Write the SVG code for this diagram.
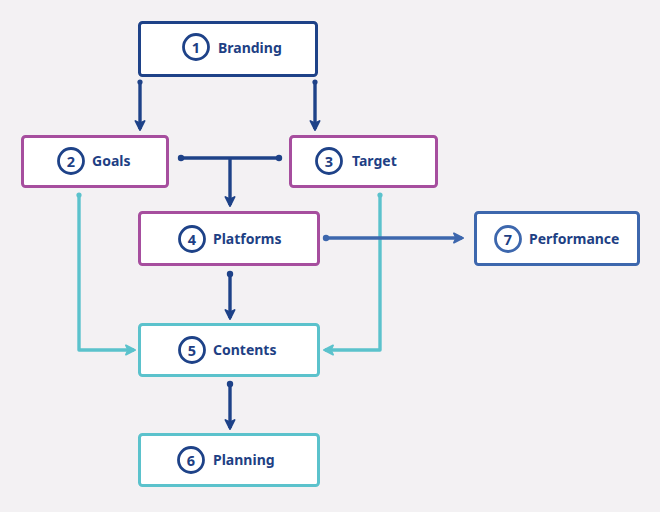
<svg xmlns="http://www.w3.org/2000/svg" width="660" height="512" viewBox="0 0 660 512">
<style>
.box{fill:#fff;stroke-width:3}
.b1{stroke:#1e4288}.b2{stroke:#a64e9e}.b3{stroke:#5bc2cc}.b4{stroke:#3d67ad}
.num{fill:none;stroke-width:2.8}
.t{font-family:"Noto Sans","Open Sans",sans-serif;font-weight:bold;font-size:14px;fill:#1e3f84}
.n{font-family:"Noto Sans","Open Sans",sans-serif;font-weight:bold;font-size:14.5px;fill:#1e3f84;text-anchor:middle}
.c{fill:none;stroke-width:3.4}
.dk{stroke:#1e4288}.tl{stroke:#5bc2cc}.bl{stroke:#3d67ad}
</style>
<defs>
<marker id="ad" viewBox="0 0 10 10" refX="8" refY="5" markerWidth="3.4" markerHeight="3.4" orient="auto" markerUnits="strokeWidth"><path d="M1,1 L9,5 L1,9 L3,5 Z" fill="#1e4288" stroke="#1e4288" stroke-width="1.5" stroke-linejoin="round"/></marker>
<marker id="at" viewBox="0 0 10 10" refX="8" refY="5" markerWidth="3.4" markerHeight="3.4" orient="auto" markerUnits="strokeWidth"><path d="M1,1 L9,5 L1,9 L3,5 Z" fill="#5bc2cc" stroke="#5bc2cc" stroke-width="1.5" stroke-linejoin="round"/></marker>
<marker id="ab" viewBox="0 0 10 10" refX="8" refY="5" markerWidth="3.4" markerHeight="3.4" orient="auto" markerUnits="strokeWidth"><path d="M1,1 L9,5 L1,9 L3,5 Z" fill="#3d67ad" stroke="#3d67ad" stroke-width="1.5" stroke-linejoin="round"/></marker>
</defs>
<rect width="660" height="512" fill="#f3f1f3"/>
<g id="connectors">
<path class="c dk" d="M140,82 V129" marker-end="url(#ad)"/>
<circle cx="140" cy="82" r="2.6" fill="#1e4288"/>
<path class="c dk" d="M315,82 V129" marker-end="url(#ad)"/>
<circle cx="315" cy="82" r="2.6" fill="#1e4288"/>
<path class="c dk" d="M181,158 H279"/>
<circle cx="181" cy="158" r="3.2" fill="#1e4288"/>
<circle cx="279" cy="158" r="3.2" fill="#1e4288"/>
<path class="c dk" d="M230,158 V205" marker-end="url(#ad)"/>
<path class="c tl" d="M79,195 V350 H134" marker-end="url(#at)" stroke-linejoin="round"/>
<circle cx="79" cy="195" r="2.6" fill="#5bc2cc"/>
<path class="c tl" d="M380,195 V350 H325" marker-end="url(#at)" stroke-linejoin="round"/>
<circle cx="380" cy="195" r="2.6" fill="#5bc2cc"/>
<path class="c bl" d="M326,238 H462" marker-end="url(#ab)"/>
<circle cx="326" cy="238" r="3.2" fill="#3d67ad"/>
<path class="c dk" d="M230,274 V318" marker-end="url(#ad)"/>
<circle cx="230" cy="274" r="3.2" fill="#1e4288"/>
<path class="c dk" d="M230,384 V428" marker-end="url(#ad)"/>
<circle cx="230" cy="384" r="3.2" fill="#1e4288"/>
</g>
<g id="n1">
<rect class="box b1" x="139.5" y="22.5" width="177" height="53" rx="3"/>
<circle class="num b1" cx="196" cy="47" r="12.5"/>
<text class="n" x="196" y="52.5">1</text>
<text class="t" x="218" y="53">Branding</text>
</g>
<g id="n2">
<rect class="box b2" x="22.5" y="136.5" width="145" height="50" rx="3"/>
<circle class="num b1" cx="71" cy="161" r="12.5"/>
<text class="n" x="71" y="166.5">2</text>
<text class="t" x="92" y="166">Goals</text>
</g>
<g id="n3">
<rect class="box b2" x="290.5" y="136.5" width="146" height="50" rx="3"/>
<circle class="num b1" cx="329" cy="161" r="12.5"/>
<text class="n" x="329" y="166.5">3</text>
<text class="t" x="352" y="166">Target</text>
</g>
<g id="n4">
<rect class="box b2" x="139.5" y="212.5" width="179" height="52" rx="3"/>
<circle class="num b1" cx="192" cy="239" r="12.5"/>
<text class="n" x="192" y="244.5">4</text>
<text class="t" x="213" y="244">Platforms</text>
</g>
<g id="n7">
<rect class="box b4" x="475.5" y="212.5" width="163" height="52" rx="3"/>
<circle class="num b4" cx="508" cy="239" r="12.5"/>
<text class="n" x="508" y="244.5">7</text>
<text class="t" x="529" y="244">Performance</text>
</g>
<g id="n5">
<rect class="box b3" x="139.5" y="324.5" width="179" height="51" rx="3"/>
<circle class="num b1" cx="192" cy="350" r="12.5"/>
<text class="n" x="192" y="355.5">5</text>
<text class="t" x="213" y="355">Contents</text>
</g>
<g id="n6">
<rect class="box b3" x="139.5" y="434.5" width="179" height="51" rx="3"/>
<circle class="num b1" cx="191" cy="460" r="12.5"/>
<text class="n" x="191" y="465.5">6</text>
<text class="t" x="213" y="465">Planning</text>
</g>
</svg>
